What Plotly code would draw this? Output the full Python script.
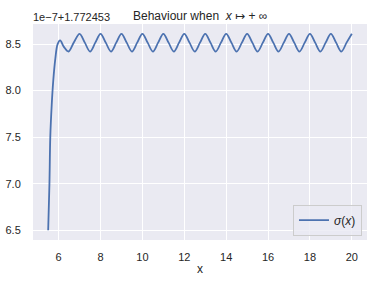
import plotly.graph_objects as go

# Values are in units of 1e-7, offset by 1.772453
x_values = [5.5, 5.56, 5.6, 5.67, 5.74, 5.84, 5.95, 6.07, 6.25, 6.47, 6.73,
            7.0, 7.25, 7.5, 7.75, 8.0, 8.25, 8.5, 8.75, 9.0, 9.25, 9.5, 9.75,
            10.0, 10.25, 10.5, 10.75, 11.0, 11.25, 11.5, 11.75, 12.0, 12.25,
            12.5, 12.75, 13.0, 13.25, 13.5, 13.75, 14.0, 14.25, 14.5, 14.75,
            15.0, 15.25, 15.5, 15.75, 16.0, 16.25, 16.5, 16.75, 17.0, 17.25,
            17.5, 17.75, 18.0, 18.25, 18.5, 18.75, 19.0, 19.25, 19.5, 19.75,
            20.0]
sigma_values = [6.5, 7.0, 7.5, 7.85, 8.1, 8.34, 8.5, 8.54, 8.47, 8.42, 8.52,
                8.61, 8.515, 8.42, 8.515, 8.61, 8.515, 8.42, 8.515,
                8.61, 8.515, 8.42, 8.515, 8.61, 8.515, 8.42, 8.515,
                8.61, 8.515, 8.42, 8.515, 8.61, 8.515, 8.42, 8.515,
                8.61, 8.515, 8.42, 8.515, 8.61, 8.515, 8.42, 8.515,
                8.61, 8.515, 8.42, 8.515, 8.61, 8.515, 8.42, 8.515,
                8.61, 8.515, 8.42, 8.515, 8.61, 8.515, 8.42, 8.515,
                8.61, 8.515, 8.42, 8.515, 8.61]
x_ticks = [6, 8, 10, 12, 14, 16, 18, 20]
y_ticks = [6.5, 7.0, 7.5, 8.0, 8.5]
y_tick_labels = ["6.5", "7.0", "7.5", "8.0", "8.5"]
offset_label = "1e\u22127+1.772453"
title_text = "Behaviour when  <i>x</i> \u21a6 + \u221e"
series_name = "<i>\u03c3</i>(<i>x</i>)"

FONT = "Liberation Sans, Arial, DejaVu Sans, sans-serif"
TXT = "#262626"

fig = go.Figure()
fig.add_trace(go.Scatter(
    x=x_values, y=sigma_values, mode="lines", name=series_name,
    line=dict(color="#4C72B0", width=1.8, shape="spline", smoothing=1.0),
    showlegend=True,
))

fig.update_layout(
    width=374, height=281,
    margin=dict(l=33, r=7, t=24, b=41, autoexpand=False),
    paper_bgcolor="white",
    plot_bgcolor="#EAEAF2",
    font=dict(family=FONT, size=11, color=TXT),
    showlegend=True,
    legend=dict(
        x=0.985, y=0.02, xanchor="right", yanchor="bottom",
        bgcolor="rgba(234,234,242,0.8)", bordercolor="#CCCCCC", borderwidth=1,
        font=dict(size=12, color=TXT), itemwidth=30,
    ),
    annotations=[
        dict(text=title_text, x=0.5, y=1.037, xref="paper", yref="paper",
             xanchor="center", yanchor="middle", showarrow=False,
             font=dict(size=12, color=TXT, family=FONT)),
        dict(text=offset_label, x=0, y=1.032, xref="paper", yref="paper",
             xanchor="left", yanchor="middle", xshift=-2, showarrow=False,
             font=dict(size=11, color=TXT, family=FONT)),
    ],
)
fig.update_xaxes(
    range=[4.775, 20.725], tickvals=x_ticks, showgrid=True, gridcolor="white",
    gridwidth=1, zeroline=False, showline=False, automargin=False,
    ticks="outside", ticklen=7, tickcolor="rgba(0,0,0,0)",
    title=dict(text="x", font=dict(size=12, color=TXT), standoff=2),
)
fig.update_yaxes(
    range=[6.3945, 8.7155], tickvals=y_ticks, ticktext=y_tick_labels,
    showgrid=True, gridcolor="white", gridwidth=1, zeroline=False,
    showline=False, automargin=False,
    ticks="outside", ticklen=9, tickcolor="rgba(0,0,0,0)",
)

fig.write_html("out.html", config={"displayModeBar": False},
               post_script="document.body.style.margin='0';document.body.style.overflow='hidden';")
